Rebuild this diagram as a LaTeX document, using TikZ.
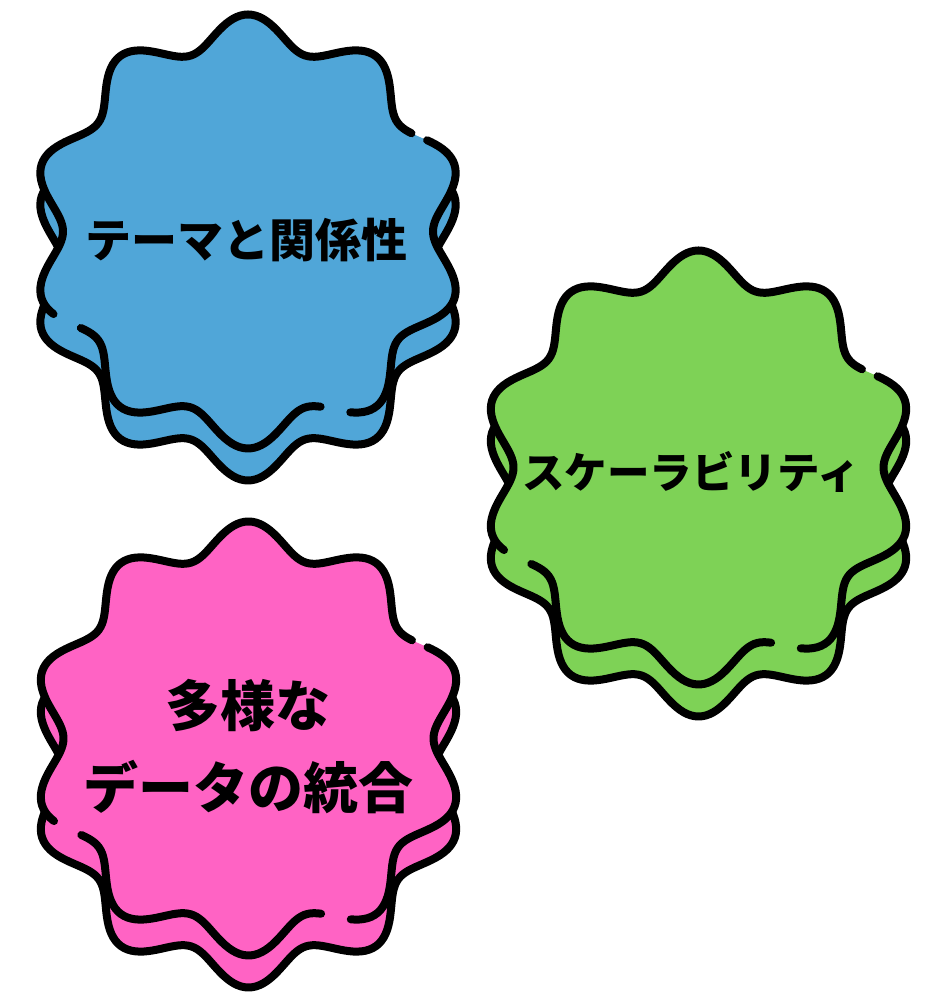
\documentclass[tikz,border=0pt]{standalone}
\usepackage{fontspec}
\newfontfamily\jp{Noto Sans CJK JP}
\definecolor{cblue}{RGB}{80,166,216}
\definecolor{cgreen}{RGB}{126,210,86}
\definecolor{cpink}{RGB}{255,99,196}
\tikzset{
  outl/.style={draw=black,line width=8pt,line cap=round,line join=round},
  lbl/.style={text=black,align=center}
}
\newcommand\mybadge[3]{%
  \begin{scope}[shift={(#1,#2)}]
    \filldraw[fill=#3,outl,yshift=-32pt] plot[domain=0:360,samples=361] (\x:{rr(\x)}) -- cycle;
    \fill[#3] plot[domain=0:360,samples=361] (\x:{rr(\x)}) -- cycle;
    \draw[outl] plot[domain=31:203,samples=173] (\x:{rr(\x)});
    \draw[outl] plot[domain=210:292.5,samples=84] (\x:{rr(\x)});
    \draw[outl] plot[domain=299.5:387,samples=88] (\x:{rr(\x)});
  \end{scope}}
\begin{document}
\begin{tikzpicture}[x=1pt,y=1pt,declare function={rr(\t)=201+16*cos(10*(\t-90));}]
  \useasboundingbox (0,0) rectangle (938,1000);
  \fill[white] (0,0) rectangle (938,1000);
  \mybadge{248}{768.5}{cblue}
  \mybadge{698.5}{532.5}{cgreen}
  \mybadge{248.5}{261.5}{cpink}
  \node[lbl,font=\jp\bfseries\fontsize{46}{52}\selectfont] (t1) at (246,760) {テーマと関係性};
  \node[lbl,font=\jp\bfseries\fontsize{42.5}{48}\selectfont] (t2) at (691,528) {スケーラビリティ};
  \node[lbl,font=\jp\bfseries\fontsize{55}{82}\selectfont] (t3) at (248,253) {多様な\\データの統合};
\end{tikzpicture}
\end{document}
